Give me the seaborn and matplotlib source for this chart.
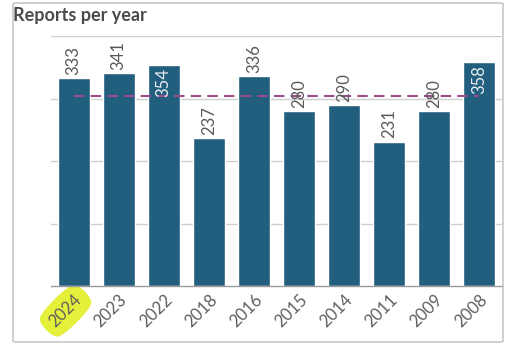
import numpy as np
import pandas as pd
import matplotlib
matplotlib.use("Agg")
import matplotlib.pyplot as plt
import seaborn as sns
from matplotlib.patches import FancyBboxPatch

years = ["2024", "2023", "2022", "2018", "2016", "2015", "2014", "2011", "2009", "2008"]
reports = [333, 341, 354, 237, 336, 280, 290, 231, 280, 358]
data = pd.DataFrame({"year": years, "reports": reports})

sns.set_theme(style="white")
plt.rcParams["font.family"] = ["Lato", "DejaVu Sans"]

fig = plt.figure(figsize=(5.13, 3.53), dpi=100)
# card border
fig.patches.append(FancyBboxPatch((13 / 513, 1 - 342 / 353), 490 / 513, 339 / 353,
                                  boxstyle="round,pad=0,rounding_size=0.004",
                                  transform=fig.transFigure, fill=False,
                                  edgecolor="#bdbdbd", linewidth=1.0))
ax = fig.add_axes([51 / 513, 1 - 286 / 353, 451 / 513, 250 / 353])

for g in [100, 200, 300, 400]:
    ax.axhline(g, color="#cfcfcf", linewidth=1, zorder=0)

sns.barplot(data=data, x="year", y="reports", order=years, color="#225e7e",
            saturation=1, width=0.71, ax=ax, zorder=2)

mean = np.mean(reports)
ax.plot([0, len(years) - 1], [mean, mean], linestyle=(0, (5, 3)), color="#9a4d8a",
        linewidth=1.5, zorder=3)

for i, v in enumerate(reports):
    if v > 345:
        ax.text(i, v - 5, str(v), rotation=90, ha="center", va="top",
                color="#e8eef2", fontsize=12, zorder=4)
    else:
        ax.text(i, v + 5, str(v), rotation=90, ha="center", va="bottom",
                color="#5a5a5a", fontsize=12, zorder=4)

ax.set_ylim(0, 400)
ax.set_xlim(-0.5, len(years) - 0.5)
ax.set_xlabel("")
ax.set_ylabel("")
ax.set_yticks([])
ax.tick_params(axis="x", length=0, pad=4, labelsize=12, labelcolor="#5f5f5f")
for lbl in ax.get_xticklabels():
    lbl.set_rotation(45)
    lbl.set_ha("right")
    lbl.set_rotation_mode("anchor")
ax.get_xticklabels()[0].set_bbox(dict(boxstyle="round4,pad=0.55", facecolor="#e4f03a",
                                      edgecolor="none"))
sns.despine(ax=ax, left=True, top=True, right=True)
ax.spines["bottom"].set_color("#9a9a9a")
ax.spines["bottom"].set_linewidth(1)

fig.text(13 / 513, 1 - 16 / 353, "Reports per year", fontsize=13, fontweight="bold",
         color="#4a4a4a", ha="left", va="center")

fig.savefig("out.png", dpi=100)
